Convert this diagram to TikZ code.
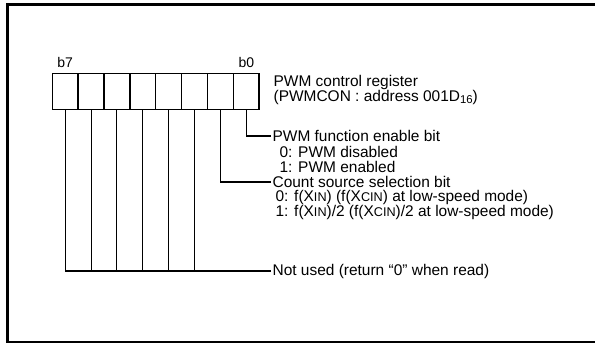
\documentclass[tikz,border=0pt]{standalone}
\usepackage{fontspec}
\setmainfont{Liberation Sans}
\newcommand{\sbs}[1]{\raisebox{-0.35ex}{\fontsize{8.5pt}{9pt}\selectfont #1}}
\newcommand{\smc}[1]{{\fontsize{9.5pt}{10pt}\selectfont #1}}
\begin{document}
\begin{tikzpicture}[x=0.75pt,y=-0.75pt,
  regbox/.style={draw,line width=1.1pt,minimum width=19.4pt,minimum height=27pt,inner sep=0pt,anchor=north west},
  lbl/.style={anchor=west,inner xsep=1pt,inner ysep=0pt,font=\fontsize{11.6pt}{13pt}\selectfont},
  blbl/.style={anchor=base,inner sep=0pt,font=\fontsize{10.5pt}{12pt}\selectfont},
  conn/.style={line width=0.8pt},
  frame/.style={line width=1.6pt}]
\useasboundingbox (0,0) rectangle (595,343);
\draw[frame] (610,4.5) -- (7.5,4.5) -- (7.5,342) -- (610,342);
% register boxes
\foreach \i/\n in {0/7,1/6,2/5,3/4,4/3,5/2,6/1,7/0}{
  \node[regbox] (r\n) at ({51.5+25.875*\i},73) {};
}
\node[blbl] (lb7) at ([yshift=4.5pt]r7.north) {b7};
\node[blbl] (lb0) at ([yshift=4.5pt]r0.north) {b0};
% texts
\node[lbl] (t1) at (272,82) {PWM control register};
\node[lbl] (t2) at (272,97) {(PWMCON : address 001D\sbs{16})};
\node[lbl] (fen) at (271,136) {PWM function enable bit};
\node[lbl] (fen0) at (278,152) {0: PWM disabled};
\node[lbl] (fen1) at (278,167) {1: PWM enabled};
\node[lbl] (css) at (271,182) {Count source selection bit};
\node[lbl] (css0) at (274,197) {0: f(X\smc{IN}) (f(X\smc{CIN}) at low-speed mode)};
\node[lbl] (css1) at (274,212) {1: f(X\smc{IN})/2 (f(X\smc{CIN})/2 at low-speed mode)};
\node[lbl] (nu) at (271,271) {Not used (return “0” when read)};
% connectors
\draw[conn] (r0.south) |- (fen.west);
\draw[conn] (r1.south) |- (css.west);
\foreach \n in {2,3,4,5,6,7}{
  \draw[conn] (r\n.south) |- (nu.west);
}
\end{tikzpicture}
\end{document}
